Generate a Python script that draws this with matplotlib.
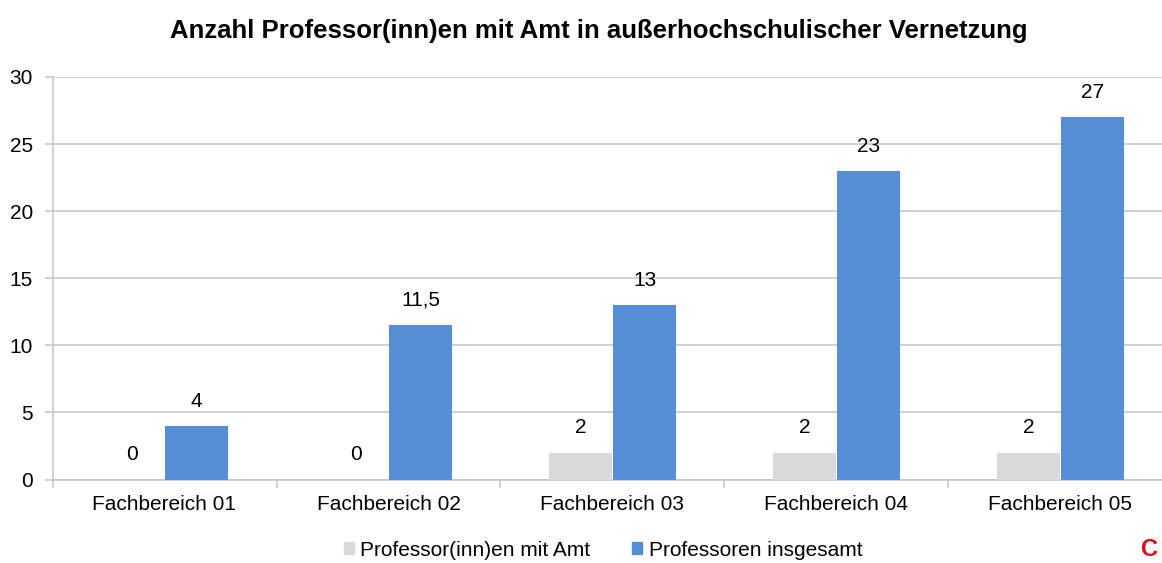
import numpy as np
import matplotlib.pyplot as plt
from matplotlib.patches import Patch

# ================== DATA ==================
categories = ["Fachbereich 01", "Fachbereich 02", "Fachbereich 03", "Fachbereich 04", "Fachbereich 05"]
mit_amt = [0, 0, 2, 2, 2]
insgesamt = [4, 11.5, 13, 23, 27]
y_ticks = [0, 5, 10, 15, 20, 25, 30]

GRAY = "#d9d9d9"
BLUE = "#558ed5"
GRID = "#c8c8c8"

plt.rcParams["font.family"] = ["Liberation Sans", "DejaVu Sans"]


def fmt(v):
    s = ("%g" % v)
    return s.replace(".", ",")


fig = plt.figure(figsize=(11.62, 5.63), dpi=100)
ax = fig.add_axes([52.5 / 1162, 1 - 479.5 / 563, 1120 / 1162, (479.5 - 77) / 563])

x = np.arange(len(categories))
w = 0.28
b1 = ax.bar(x - 0.143, mit_amt, w, color=GRAY, zorder=3, clip_on=False)
b2 = ax.bar(x + 0.143, insgesamt, w, color=BLUE, zorder=3, clip_on=False)

# ===== VALUE LABELS =====
for bars, vals in ((b1, mit_amt), (b2, insgesamt)):
    for r, v in zip(bars, vals):
        ax.annotate(fmt(v), (r.get_x() + r.get_width() / 2, v), xytext=(0, 11),
                    textcoords="offset points", ha="center", va="bottom", fontsize=15,
                    annotation_clip=False)

ax.set_xlim(-0.5, len(categories) - 0.5)
ax.set_ylim(0, 30)
ax.set_yticks(y_ticks)
ax.set_yticklabels([str(t) for t in y_ticks], fontsize=15)
ax.yaxis.grid(True, color=GRID, linewidth=1.2, zorder=0)
ax.set_axisbelow(True)

# category labels centred, tick marks between categories
ax.set_xticks(x)
ax.set_xticklabels(categories, fontsize=15)
ax.tick_params(axis="x", length=0, pad=11)
ax.set_xticks(np.arange(len(categories) + 1) - 0.5, minor=True)
ax.tick_params(axis="x", which="minor", length=6, color=GRID, width=1.2)
ax.tick_params(axis="y", length=6, color=GRID, width=1.2, pad=8)

for s in ("top", "right"):
    ax.spines[s].set_visible(False)
for s in ("left", "bottom"):
    ax.spines[s].set_color(GRID)
    ax.spines[s].set_linewidth(1.2)

fig.suptitle("Anzahl Professor(inn)en mit Amt in außerhochschulischer Vernetzung",
             x=599 / 1162, y=1 - 31 / 563, va="center", fontsize=18.5, fontweight="bold")

handles = [Patch(color=GRAY, label="Professor(inn)en mit Amt"),
           Patch(color=BLUE, label="Professoren insgesamt")]
fig.legend(handles=handles, loc="center", bbox_to_anchor=(603 / 1162, 1 - 550 / 563), ncol=2,
           frameon=False, fontsize=15, handlelength=0.5, handleheight=0.5,
           handletextpad=0.3, columnspacing=2.0)

fig.text(1150 / 1162, 1 - 549 / 563, "C", color="#e30613", fontsize=17, fontweight="bold",
         ha="center", va="center")

fig.savefig("out.png", dpi=100)
